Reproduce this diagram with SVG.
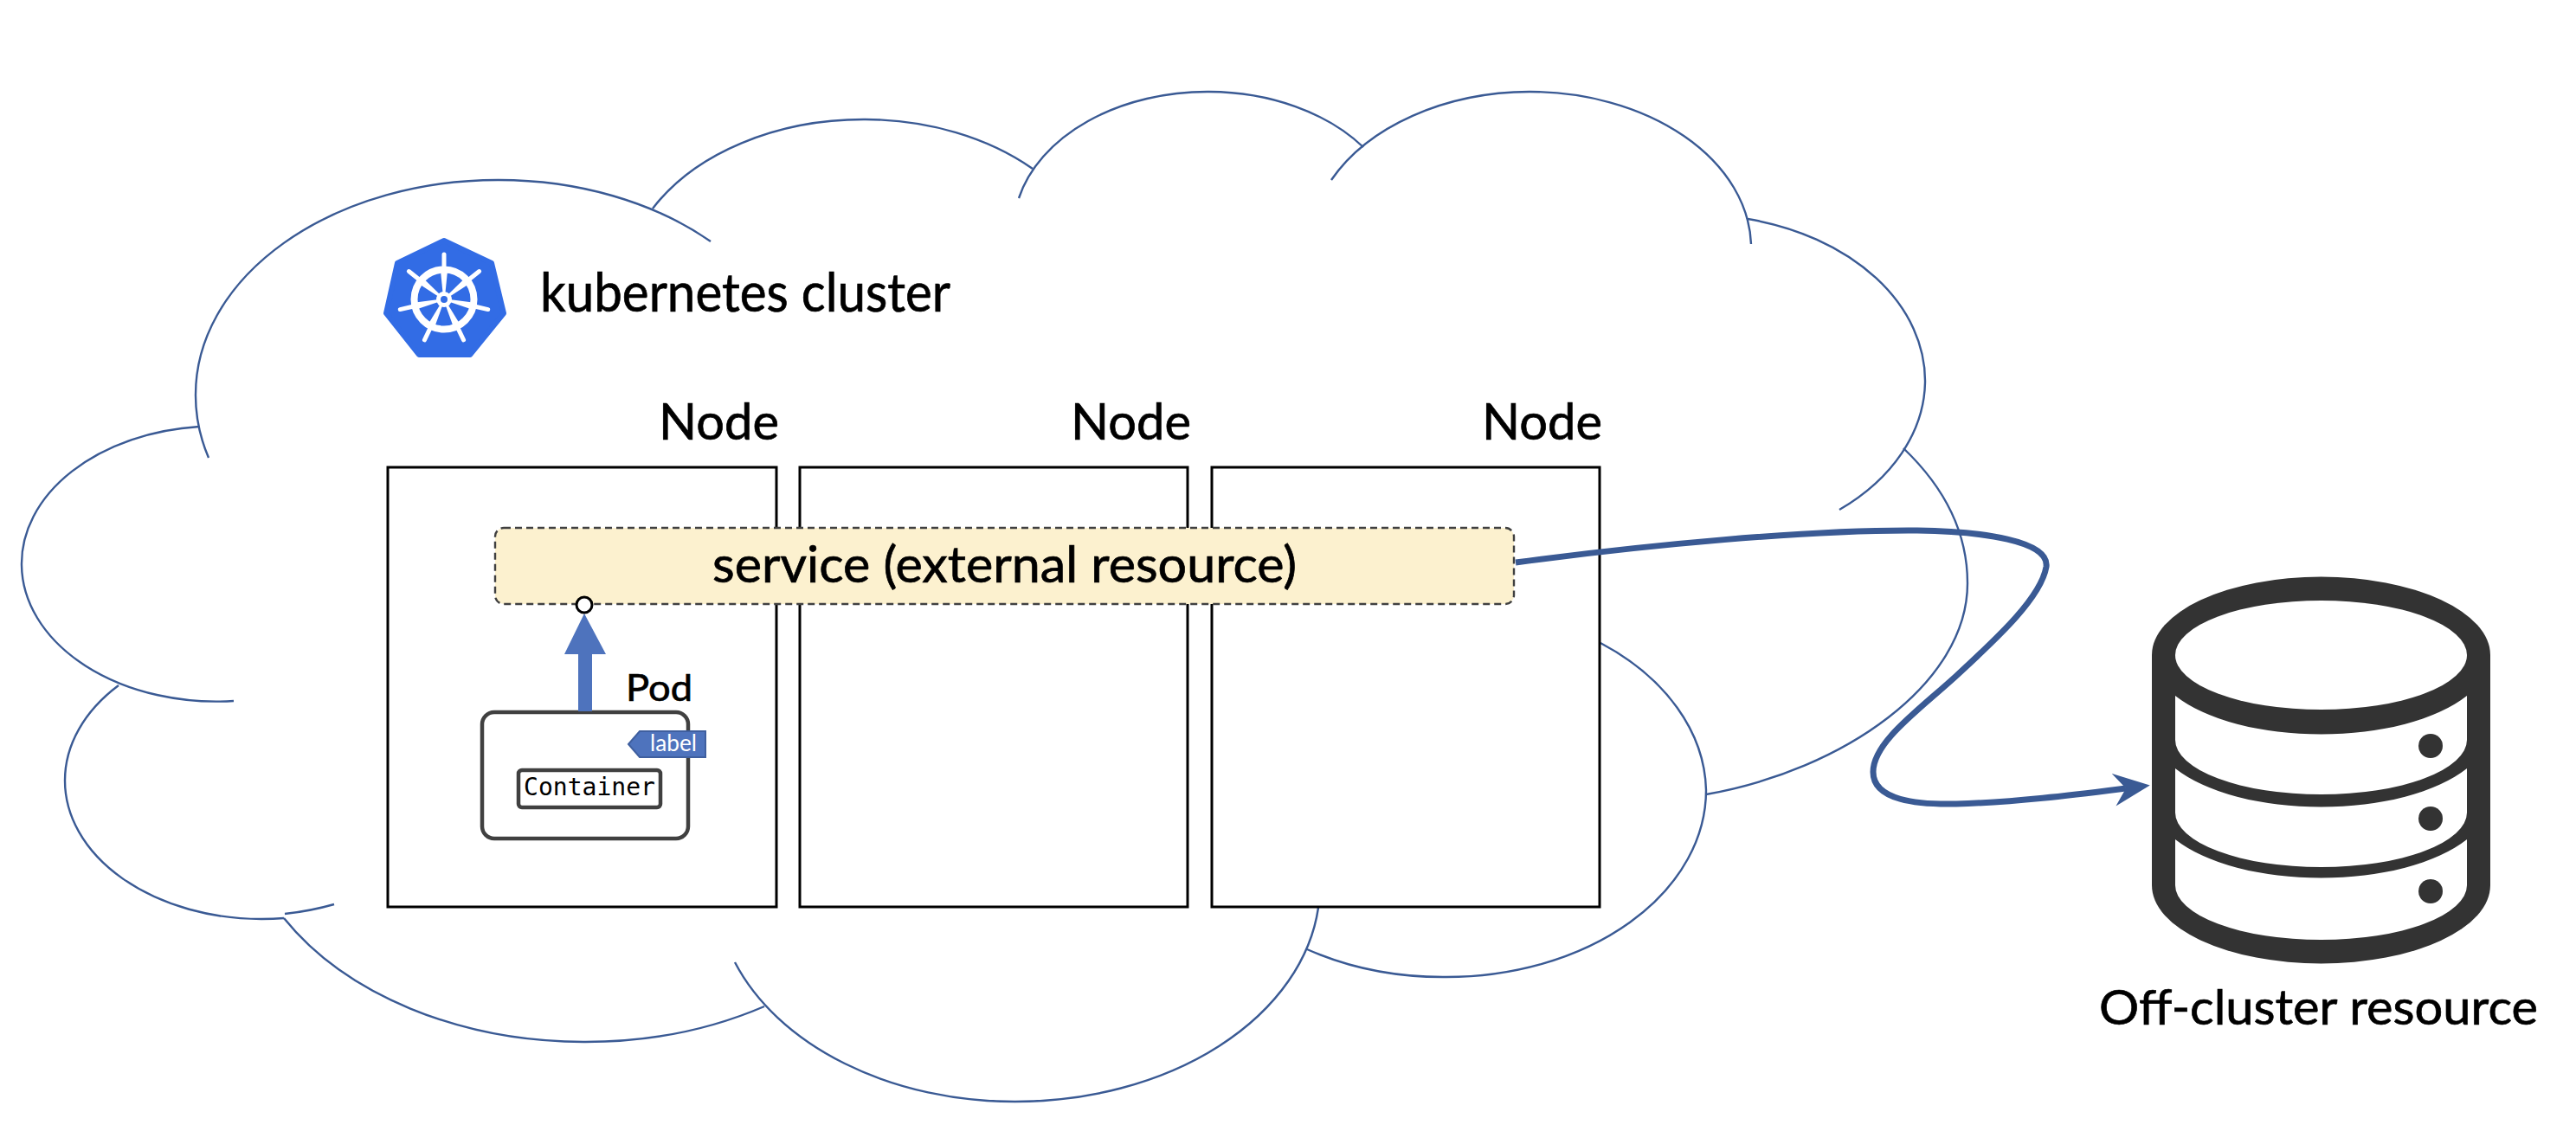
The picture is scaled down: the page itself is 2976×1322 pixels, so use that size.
<svg xmlns="http://www.w3.org/2000/svg" width="2976" height="1322" viewBox="0 0 2976 1322">
<style>
.cloud{fill:none;stroke:#3A5A94;stroke-width:2.4}
.box{fill:#fff;stroke:#000;stroke-width:3}
.t{font-family:"Lato","Liberation Sans",sans-serif;fill:#000;stroke:#000;stroke-width:0.7}
.pod{fill:#fff;stroke:#404040;stroke-width:4.5}
.white{fill:#fff}
.dark{fill:#333}
</style>
<defs>
<marker id="stealth" markerUnits="userSpaceOnUse" markerWidth="42" markerHeight="40" refX="14" refY="20" orient="auto" viewBox="0 0 42 40"><polygon points="42,20 0,1 14,20 0,39" fill="#3A5A94"/></marker>
<g id="spoke"><polygon points="-1.5,-8 1.5,-8 4,-33 -4,-33" fill="#fff"/><line x1="0" y1="-36" x2="0" y2="-52" stroke="#fff" stroke-width="5" stroke-linecap="round"/></g>
</defs>
<rect width="2976" height="1322" fill="#fff"/>
<g id="cloud" class="cloud">
<path d="M241 529A349 248 0 0 1 226 456A349 248 0 0 1 575 208A349 248 0 0 1 821 279"/>
<path d="M230 493A225 159 0 0 0 25 653A225 159 0 0 0 270 810"/>
<path d="M137 792A227 160 0 0 0 75 902A227 160 0 0 0 302 1062Q316 1062 328 1061"/>
<path d="M329 1056Q358 1053 386 1045"/>
<path d="M328 1061A400 285 0 0 0 674 1204A400 285 0 0 0 883 1163"/>
<path d="M849 1112A345 248 0 0 0 1173 1273A352 250 0 0 0 1523 1049"/>
<path d="M1510 1097A300 216 0 0 0 1671 1129A300 216 0 0 0 1971 913A300 216 0 0 0 1849 743"/>
<path d="M1971 918C2130 890 2273 790 2273 674C2273 610 2243 560 2199 518"/>
<path d="M2019 253A264 192 0 0 1 2224 442A264 192 0 0 1 2125 589"/>
<path d="M1538 208A256 181 0 0 1 1767 106A256 181 0 0 1 2023 282"/>
<path d="M1177 229A224 160 0 0 1 1397 106A224 160 0 0 1 1575 170"/>
<path d="M754 241A277 196 0 0 1 1000 138A277 196 0 0 1 1193 195"/>
</g>
<g id="k8s-logo">
<polygon points="513,278 568,304 582,362 543,410 484,410 446,362 459,304" fill="#326CE5" stroke="#326CE5" stroke-width="6" stroke-linejoin="round"/>
<circle cx="513" cy="346" r="34.5" fill="none" stroke="#fff" stroke-width="8"/>
<circle cx="513" cy="346" r="9" fill="#fff"/><circle cx="513" cy="346" r="4" fill="#326CE5"/>
<use href="#spoke" transform="translate(513 346)"/>
<use href="#spoke" transform="translate(513 346) rotate(51.43)"/>
<use href="#spoke" transform="translate(513 346) rotate(102.86)"/>
<use href="#spoke" transform="translate(513 346) rotate(154.29)"/>
<use href="#spoke" transform="translate(513 346) rotate(205.71)"/>
<use href="#spoke" transform="translate(513 346) rotate(257.14)"/>
<use href="#spoke" transform="translate(513 346) rotate(308.57)"/>
</g>
<text id="cluster-title" class="t" x="624" y="360" font-size="61" textLength="474" lengthAdjust="spacingAndGlyphs">kubernetes cluster</text>
<g id="node-1"><rect class="box" x="448" y="540" width="449" height="508"/><text class="t" x="761" y="508" font-size="58" textLength="139" lengthAdjust="spacingAndGlyphs">Node</text></g>
<g id="node-2"><rect class="box" x="924" y="540" width="448" height="508"/><text class="t" x="1237" y="508" font-size="58" textLength="139" lengthAdjust="spacingAndGlyphs">Node</text></g>
<g id="node-3"><rect class="box" x="1400" y="540" width="448" height="508"/><text class="t" x="1712" y="508" font-size="58" textLength="139" lengthAdjust="spacingAndGlyphs">Node</text></g>
<g id="service">
<rect x="572" y="610" width="1177" height="88" rx="10" fill="#FCF1CF" stroke="#404040" stroke-width="2.4" stroke-dasharray="8 5"/>
<text class="t" x="823" y="673" font-size="58" textLength="675" lengthAdjust="spacingAndGlyphs">service (external resource)</text>
</g>
<g id="pod">
<rect class="pod" x="557" y="823" width="238" height="146" rx="14"/>
<text class="t" x="723" y="810" font-size="43" textLength="77" lengthAdjust="spacingAndGlyphs">Pod</text>
<g id="pod-label">
<polygon points="726,860 739,845 815,845 815,875 739,875" fill="#4E73BD" stroke="#3F5F9F" stroke-width="2"/>
<text x="751" y="868" font-family="Lato,'Liberation Sans',sans-serif" font-size="26" fill="#fff" textLength="54" lengthAdjust="spacingAndGlyphs">label</text>
</g>
<g id="container">
<rect class="pod" x="599" y="890" width="164" height="43" rx="4"/>
<text x="605" y="919" font-family="'DejaVu Sans Mono','Liberation Mono',monospace" font-size="28" fill="#000" textLength="152" lengthAdjust="spacingAndGlyphs">Container</text>
</g>
</g>
<g id="off-cluster-resource">
<path class="dark" d="M2486 757A195.5 90.5 0 0 1 2877 757V1023A195.5 90.5 0 0 1 2486 1023Z"/>
<ellipse class="white" cx="2681.5" cy="757" rx="168.5" ry="63"/>
<path class="white" d="M2513 804A195.5 90.5 0 0 0 2850 804V855A168.5 63 0 0 1 2513 855Z"/>
<path class="white" d="M2513 888A195.5 90.5 0 0 0 2850 888V939A168.5 63 0 0 1 2513 939Z"/>
<path class="white" d="M2513 970A195.5 90.5 0 0 0 2850 970V1023A168.5 63 0 0 1 2513 1023Z"/>
<circle class="dark" cx="2808" cy="862" r="14"/>
<circle class="dark" cx="2808" cy="946" r="14"/>
<circle class="dark" cx="2808" cy="1030" r="14"/>
<text class="t" x="2425" y="1184" font-size="57" textLength="507" lengthAdjust="spacingAndGlyphs">Off-cluster resource</text>
</g>
<g id="connectors">
<polygon points="675,709 700,756 684,756 684,822 668,822 668,756 652,756" fill="#4E73BD"/>
<circle cx="675" cy="699" r="9" fill="#fff" stroke="#000" stroke-width="3"/>
<path d="M1751 650C1900 630 2090 612 2215 613C2290 614 2368 625 2364 655C2358 690 2310 735 2259 782C2215 822 2164 858 2164 892C2164 925 2215 930 2260 929C2330 927 2400 918 2456 911" fill="none" stroke="#3A5A94" stroke-width="7" marker-end="url(#stealth)"/>
</g>
</svg>
